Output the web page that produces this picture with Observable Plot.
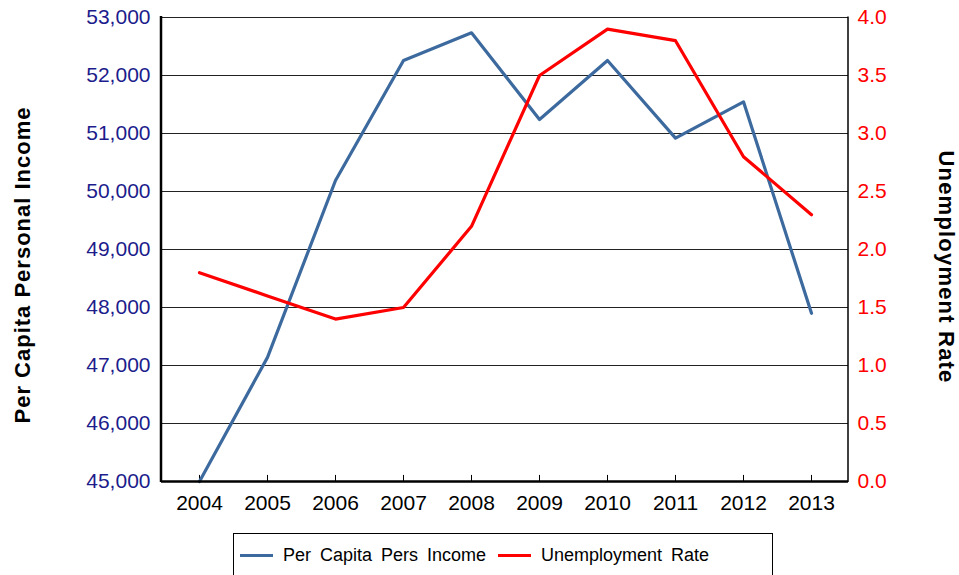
<!DOCTYPE html>
<html>
<head>
<meta charset="utf-8">
<script src="https://cdn.jsdelivr.net/npm/d3@7"></script>
<script src="https://cdn.jsdelivr.net/npm/@observablehq/plot@0.6"></script>
<style>
  html, body { margin: 0; padding: 0; background: #fff; }
  body { width: 959px; height: 575px; overflow: hidden; position: relative; font-family: "Liberation Sans", Arial, sans-serif; }
  #legend {
    position: absolute; left: 233px; top: 533px; width: 540px; height: 60px;
    border: 1px solid #000; box-sizing: border-box; font-size: 18px; color: #000;
    word-spacing: 4px;
  }
  .item { position: absolute; top: 11px; display: flex; align-items: center; }
  .swatch { width: 33px; height: 3px; margin-right: 10px; }
</style>
</head>
<body>
<div id="chart"></div>
<div id="legend">
  <div class="item" style="left:6px"><span class="swatch" style="background:#3d6a9e"></span>Per Capita Pers Income</div>
  <div class="item" style="left:264px"><span class="swatch" style="background:#ff0000"></span>Unemployment Rate</div>
</div>
<script>
const years = ["2004","2005","2006","2007","2008","2009","2010","2011","2012","2013"];
const income = [45000, 47140, 50190, 52260, 52736, 51240, 52259, 50920, 51546, 47900];
const unemployment = [1.8, 1.6, 1.4, 1.5, 2.2, 3.5, 3.9, 3.8, 2.8, 2.3];
const incomeTicks = [45000, 46000, 47000, 48000, 49000, 50000, 51000, 52000, 53000];

// The unemployment rate shares the income scale: 0–4.0 maps onto 45,000–53,000.
const incomeMin = 45000, rateFactor = 2000;
const toIncome = r => incomeMin + r * rateFactor;
const toRate = v => (v - incomeMin) / rateFactor;

const incomeRows = years.map((y, i) => ({year: y, value: income[i]}));
const rateRows = years.map((y, i) => ({year: y, value: toIncome(unemployment[i])}));

const W = 959, H = 525;
const mLeft = 161, mRight = 111, mTop = 17, mBottom = 44;
const fontStack = "'Liberation Sans', Arial, sans-serif";

const chart = Plot.plot({
  width: W,
  height: H,
  marginLeft: mLeft,
  marginRight: mRight,
  marginTop: mTop,
  marginBottom: mBottom,
  style: {fontFamily: fontStack, fontSize: "21px", background: "#fff"},
  x: {type: "point", domain: years, padding: 0.5},
  y: {domain: [45000, 53000]},
  marks: [
    Plot.ruleY(incomeTicks.slice(1), {stroke: "#222", strokeWidth: 1}),
    Plot.ruleX(years, {x: d => d, y1: 45000, y2: 45105, stroke: "#000", strokeWidth: 1}),
    Plot.line(incomeRows, {x: "year", y: "value", stroke: "#3d6a9e", strokeWidth: 3.2}),
    Plot.line(rateRows, {x: "year", y: "value", stroke: "#ff0000", strokeWidth: 3.2}),
    Plot.axisY({anchor: "left", ticks: incomeTicks, tickSize: 0, tickPadding: 11,
      tickFormat: d3.format(","), fill: "#1c1c8c", label: null}),
    Plot.axisY({anchor: "right", ticks: incomeTicks, tickSize: 0, tickPadding: 9,
      tickFormat: d => toRate(d).toFixed(1), fill: "#ff0000", label: null}),
    Plot.axisX({tickSize: 0, tickPadding: 14, fill: "#000", label: null}),
    Plot.ruleY([45000], {stroke: "#000", strokeWidth: 2.5})
  ]
});

// Left and right edges of the plot area, and titles for both value axes.
const svg = d3.select(chart);
const xL = mLeft, xR = W - mRight, yT = mTop, yB = H - mBottom;
svg.append("line").attr("x1", xL).attr("x2", xL).attr("y1", yT - 1).attr("y2", yB + 1)
  .attr("stroke", "#000").attr("stroke-width", 2.5);
svg.append("line").attr("x1", xR).attr("x2", xR).attr("y1", yT - 0.5).attr("y2", yB + 1)
  .attr("stroke", "#000").attr("stroke-width", 1.5);
svg.append("text").attr("transform", `translate(30,${(yT + yB) / 2 + 16}) rotate(-90)`)
  .attr("text-anchor", "middle").attr("font-weight", "bold").attr("font-size", 22)
  .attr("letter-spacing", 1).attr("font-family", fontStack).text("Per Capita Personal Income");
svg.append("text").attr("transform", `translate(939,${(yT + yB) / 2 + 18}) rotate(90)`)
  .attr("text-anchor", "middle").attr("font-weight", "bold").attr("font-size", 22)
  .attr("letter-spacing", 1.2).attr("font-family", fontStack).text("Unemployment Rate");

document.getElementById("chart").append(chart);
</script>
</body>
</html>
